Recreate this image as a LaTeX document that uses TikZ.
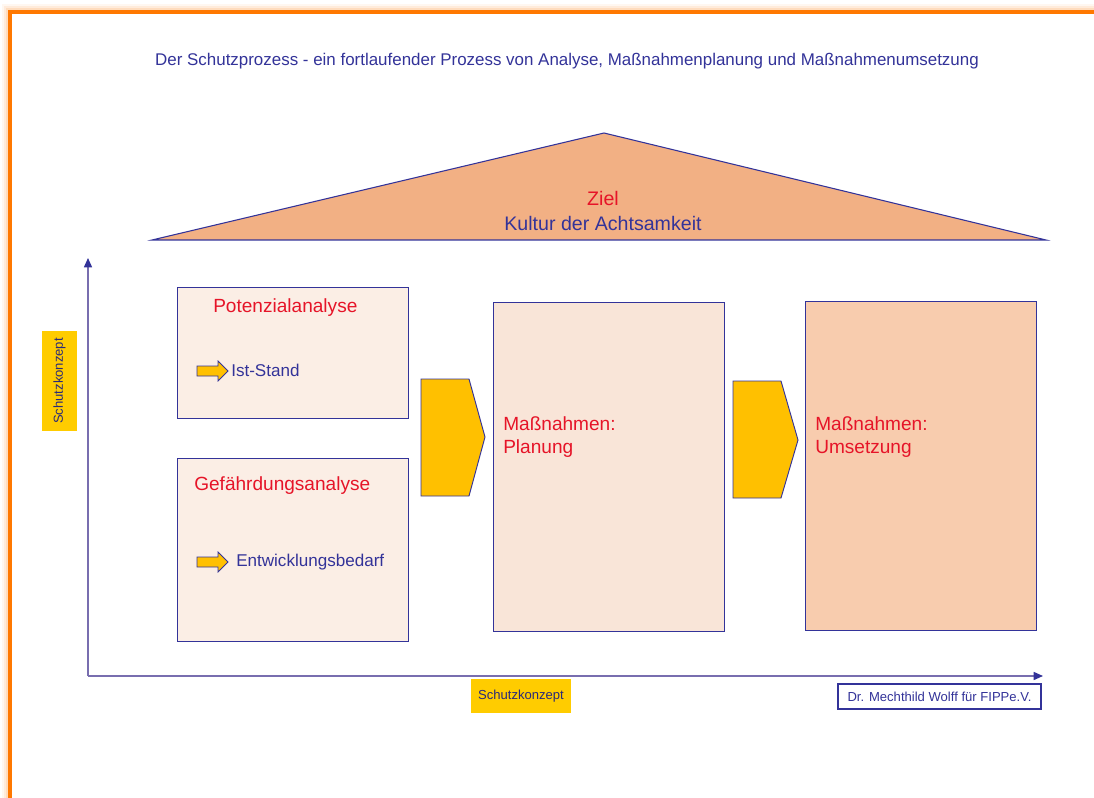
\documentclass[tikz,border=0pt]{standalone}
\usepackage{fontspec}
\setmainfont{Liberation Sans}
\usetikzlibrary{arrows.meta}
\definecolor{ink}{RGB}{51,51,153}
\definecolor{redtxt}{RGB}{230,20,40}
\definecolor{frameorange}{RGB}{255,120,0}
\definecolor{gold}{RGB}{255,192,0}
\definecolor{labelgold}{RGB}{255,204,0}
\definecolor{roof}{RGB}{242,176,132}
\definecolor{paleA}{RGB}{251,238,229}
\definecolor{paleB}{RGB}{249,229,216}
\definecolor{paleC}{RGB}{248,204,174}
\definecolor{axis}{RGB}{120,110,175}
\tikzset{
  px/.style={x=0.75pt,y=-0.75pt},
  stage/.style={draw=ink,line width=0.75pt},
  chevron/.style={draw=ink,fill=gold,line width=0.7pt},
  pointer/.style={draw=ink,fill=gold,line width=0.6pt},
  heading/.style={text=redtxt,font=\fontsize{14.3pt}{17pt}\selectfont,anchor=west,inner sep=0pt},
  bodytext/.style={text=ink,font=\fontsize{12.8pt}{15pt}\selectfont,anchor=west,inner sep=0pt},
  smalllabel/.style={font=\fontsize{9.8pt}{11pt}\selectfont,inner sep=0pt},
  axisline/.style={draw=axis,line width=1.1pt,-{Triangle[length=7pt,width=6pt,color=ink]}}
}
\begin{document}
\begin{tikzpicture}[px]
\useasboundingbox (0,0) rectangle (1094,798);
\fill[white] (0,0) rectangle (1094,798);

% frame with a soft glow on its outer side
\foreach \d/\o in {4/0.06,3/0.09,2/0.13}{
  \draw[frameorange,opacity=\o,line width=2*\d*0.75pt] (10-\d,798) -- (10-\d,12-\d) -- (1094,12-\d);
}
\draw[frameorange,line width=2.3pt] (10,798) -- (10,12) -- (1094,12);

% title
\node[text=ink,font=\fontsize{12.7pt}{15pt}\selectfont,inner sep=0pt] (title) at (567,61)
  {Der Schutzprozess - ein fortlaufender Prozess von Analyse, Maßnahmenplanung und Maßnahmenumsetzung};

% roof
\coordinate (roofL) at (152,240);
\coordinate (roofT) at (604,133);
\coordinate (roofR) at (1046,240);
\draw[fill=roof,draw=ink,line width=0.8pt] (roofL) -- (roofT) -- (roofR) -- cycle;
\node[text=redtxt,font=\fontsize{14.7pt}{17pt}\selectfont,inner sep=0pt] (ziel) at (603,198) {Ziel};
\node[text=ink,font=\fontsize{14.7pt}{17pt}\selectfont,inner sep=0pt] (kultur) at (603,223) {Kultur der Achtsamkeit};

% axes
\coordinate (origin) at (88,676);
\coordinate (ytop) at (88,258);
\coordinate (xend) at (1043,676);
\draw[axisline] (origin) -- (ytop);
\draw[axisline] (origin) -- (xend);

% axis labels
\node[fill=labelgold,minimum width=35*0.75pt,minimum height=100*0.75pt,inner sep=0pt] (ylab) at (59.5,381) {};
\node[smalllabel,text=ink!80!black,rotate=90] at (ylab.center) {Schutzkonzept};
\node[fill=labelgold,minimum width=100*0.75pt,minimum height=34*0.75pt,smalllabel,text=ink!80!black] (xlab) at (521,696) {Schutzkonzept};
\node[draw=ink,fill=white,line width=0.8pt,minimum width=203*0.75pt,minimum height=25*0.75pt,smalllabel,text=ink] (credit) at (939.5,696.5) {Dr. Mechthild Wolff für FIPPe.V.};

% analysis boxes
\draw[stage,fill=paleA] (177,288) rectangle (408,418);
\node[heading] (pot) at (213,308) {Potenzialanalyse};
\draw[pointer] (197,366) -- (218,366) -- (218,361) -- (228,371) -- (218,381) -- (218,376) -- (197,376) -- cycle;
\node[bodytext] (ist) at (231,370) {Ist-Stand};

\draw[stage,fill=paleA] (177,458) rectangle (408,641);
\node[heading] (gef) at (194,486) {Gefährdungsanalyse};
\draw[pointer] (197,557) -- (218,557) -- (218,552) -- (228,562) -- (218,572) -- (218,567) -- (197,567) -- cycle;
\node[bodytext] (entw) at (236,562) {Entwicklungsbedarf};

% chevron 1
\draw[chevron] (421,379) -- (469,379) -- (485,437) -- (469,496) -- (421,496) -- cycle;

% planning
\draw[stage,fill=paleB] (493,302) rectangle (724,631);
\node[heading] (plan1) at (503,424) {Maßnahmen:};
\node[heading] (plan2) at (503,449) {Planung};

% chevron 2
\draw[chevron] (733,381) -- (781,381) -- (798,440) -- (781,498) -- (733,498) -- cycle;

% implementation
\draw[stage,fill=paleC] (805,301) rectangle (1036,630);
\node[heading] (ums1) at (815,424) {Maßnahmen:};
\node[heading] (ums2) at (815,449) {Umsetzung};
\end{tikzpicture}
\end{document}
